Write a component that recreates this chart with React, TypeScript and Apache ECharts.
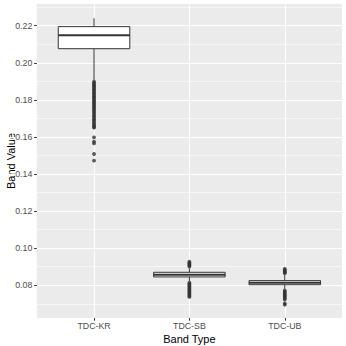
import React, { useEffect, useRef } from "react";
import * as echarts from "echarts";

const categories = ["TDC-KR", "TDC-SB", "TDC-UB"];
const categoryPos = [1, 2, 3];

const lowerWhisker = [0.1907, 0.0823, 0.0781];
const q1 = [0.2076, 0.0845, 0.0803];
const median = [0.2148, 0.0857, 0.0814];
const q3 = [0.2195, 0.087, 0.0825];
const upperWhisker = [0.224, 0.0891, 0.0858];

const krOutliers = [
  0.1898, 0.1891, 0.1884, 0.1877, 0.1871, 0.1864, 0.1857, 0.185, 0.1842, 0.1835,
  0.1828, 0.182, 0.1813, 0.1806, 0.1798, 0.179, 0.1782, 0.1775, 0.1767, 0.176,
  0.1752, 0.1745, 0.1737, 0.1729, 0.172, 0.1712, 0.1703, 0.1695, 0.1688, 0.1679,
  0.167, 0.1662, 0.1655, 0.165, 0.1598, 0.1575, 0.1565, 0.1508, 0.1472,
];
const sbOutliers = [
  0.0927, 0.0921, 0.0916, 0.0911, 0.0906, 0.0901,
  0.0814, 0.0808, 0.0802, 0.0796, 0.079, 0.0784, 0.0778, 0.0772, 0.0766, 0.076,
  0.0754, 0.0748, 0.0742, 0.0737,
];
const ubOutliers = [
  0.0888, 0.0883, 0.0878, 0.0873, 0.0869, 0.0865,
  0.0772, 0.0766, 0.076, 0.0754, 0.0748, 0.0742, 0.0736, 0.073, 0.0723, 0.0702,
  0.0695,
];
const outliers = [krOutliers, sbOutliers, ubOutliers];

const yTicks = [0.08, 0.1, 0.12, 0.14, 0.16, 0.18, 0.2, 0.22];

const FONT = "Liberation Sans, Arial, Helvetica, sans-serif";

export default function App() {
  const ref = useRef<HTMLDivElement>(null);
  useEffect(() => {
    if (!ref.current) return;
    const chart = echarts.init(ref.current, undefined, { renderer: "svg" });

    const boxData = categoryPos.map((x, i) => [
      x,
      lowerWhisker[i],
      q1[i],
      median[i],
      q3[i],
      upperWhisker[i],
    ]);
    const outlierData: number[][] = [];
    outliers.forEach((arr, i) => arr.forEach((v) => outlierData.push([categoryPos[i], v])));

    // panel: x 36.8..342, y 4..318
    const panelLeft = 36.8;
    const panelRight = 342;
    const panelTop = 4;
    const panelBottom = 318;
    const unitX = (panelRight - panelLeft) / 3.2;
    const gridLeft = panelLeft - 0.4 * unitX;
    const gridWidth = 4 * unitX;
    const pxPerY = 1854;
    const gridTop = 25.7 - (0.24 - 0.22) * pxPerY;
    const gridHeight = (0.24 - 0.06) * pxPerY;
    const gridBottomY = gridTop + gridHeight;

    chart.setOption({
      animation: false,
      grid: {
        left: gridLeft,
        top: gridTop,
        width: gridWidth,
        height: gridHeight,
        containLabel: false,
        outerBoundsMode: "none",
        show: false,
      },
      graphic: {
        elements: [
          {
            type: "rect",
            z: -10,
            silent: true,
            shape: {
              x: panelLeft,
              y: panelTop,
              width: panelRight - panelLeft,
              height: panelBottom - panelTop,
            },
            style: { fill: "#EBEBEB" },
          },
          {
            type: "text",
            x: (panelLeft + panelRight) / 2,
            y: 338.5,
            style: {
              text: "Band Type",
              fill: "#000",
              font: `11px ${FONT}`,
              textAlign: "center",
              textVerticalAlign: "middle",
            },
          },
          {
            type: "text",
            x: 11,
            y: (panelTop + panelBottom) / 2,
            rotation: Math.PI / 2,
            style: {
              text: "Band Value",
              fill: "#000",
              font: `11px ${FONT}`,
              textAlign: "center",
              textVerticalAlign: "middle",
            },
          },
        ],
      },
      xAxis: {
        type: "value",
        min: 0,
        max: 4,
        interval: 1,
        offset: -(gridBottomY - panelBottom),
        axisLine: { show: false },
        axisTick: {
          show: true,
          customValues: categoryPos,
          length: 2.7,
          lineStyle: { color: "#333333", width: 1 },
        },
        axisLabel: {
          customValues: categoryPos,
          formatter: (v: number) => {
            const i = categoryPos.indexOf(Math.round(v));
            return i >= 0 ? categories[i] : "";
          },
          color: "#4D4D4D",
          fontSize: 8.8,
          fontFamily: FONT,
          margin: 3,
        },
        splitLine: { show: true, lineStyle: { color: "#FFFFFF", width: 1.1 } },
        minorSplitLine: { show: false },
      },
      yAxis: {
        type: "value",
        min: 0.06,
        max: 0.24,
        interval: 0.02,
        offset: -(panelLeft - gridLeft),
        axisLine: { show: false },
        axisTick: {
          show: true,
          customValues: yTicks,
          length: 2.7,
          lineStyle: { color: "#333333", width: 1 },
        },
        axisLabel: {
          customValues: yTicks,
          formatter: (v: number) => v.toFixed(2),
          color: "#4D4D4D",
          fontSize: 8.8,
          fontFamily: FONT,
          margin: 4.5,
        },
        splitLine: { show: true, lineStyle: { color: "#FFFFFF", width: 1.1 } },
        minorTick: { show: false, splitNumber: 2 },
        minorSplitLine: { show: true, lineStyle: { color: "#FFFFFF", width: 0.55 } },
      },
      series: [
        {
          type: "custom",
          data: boxData,
          encode: { x: 0, y: [1, 2, 3, 4, 5] },
          renderItem: (params: any, api: any) => {
            const x = api.value(0);
            const lo = api.coord([x, api.value(1)]);
            const b1 = api.coord([x, api.value(2)]);
            const md = api.coord([x, api.value(3)]);
            const b3 = api.coord([x, api.value(4)]);
            const hi = api.coord([x, api.value(5)]);
            const w = api.size([0.75, 0])[0];
            const cx = lo[0];
            const stroke = "#333333";
            return {
              type: "group",
              children: [
                {
                  type: "line",
                  shape: { x1: cx, y1: hi[1], x2: cx, y2: b3[1] },
                  style: { stroke, lineWidth: 1 },
                },
                {
                  type: "line",
                  shape: { x1: cx, y1: b1[1], x2: cx, y2: lo[1] },
                  style: { stroke, lineWidth: 1 },
                },
                {
                  type: "rect",
                  shape: { x: cx - w / 2, y: b3[1], width: w, height: b1[1] - b3[1] },
                  style: { fill: "#FFFFFF", stroke, lineWidth: 1 },
                },
                {
                  type: "line",
                  shape: { x1: cx - w / 2, y1: md[1], x2: cx + w / 2, y2: md[1] },
                  style: { stroke, lineWidth: 2 },
                },
              ],
            };
          },
        },
        {
          type: "scatter",
          data: outlierData,
          symbol: "circle",
          symbolSize: 3.8,
          itemStyle: { color: "#333333" },
        },
      ],
    });
    return () => chart.dispose();
  }, []);
  return (
    <div
      ref={ref}
      style={{ position: "absolute", left: 0, top: 0, width: 346, height: 346 }}
    />
  );
}
